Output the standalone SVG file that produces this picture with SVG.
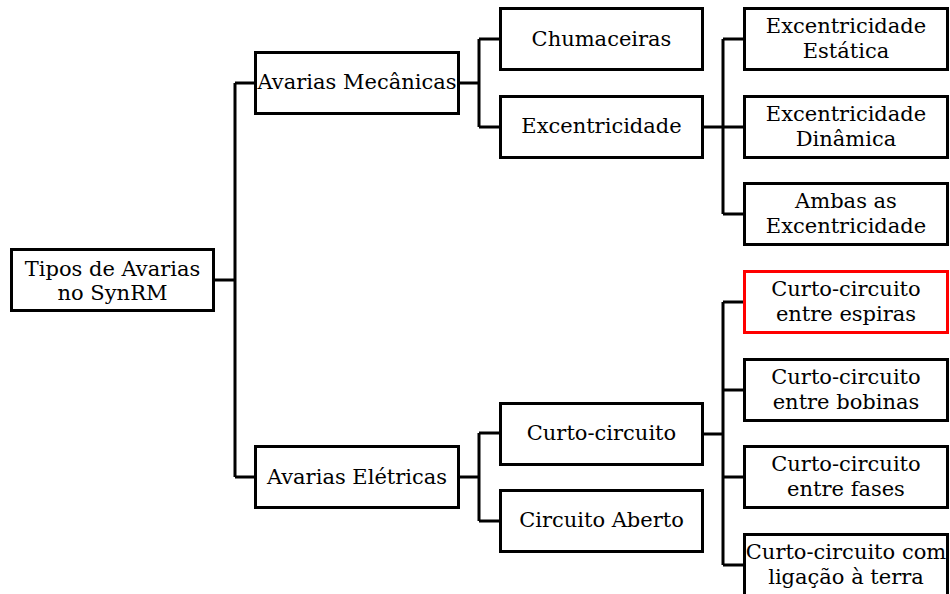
<svg xmlns="http://www.w3.org/2000/svg" width="950" height="594" viewBox="0 0 950 594">
  <style>
    .box { fill: #ffffff; stroke: #000000; stroke-width: 3; }
    .hl { stroke: #ff0000; }
    .lbl { font-family: "DejaVu Serif", "Liberation Serif", serif; font-size: 21px; fill: #000000; text-anchor: middle; }
    .wire { fill: none; stroke: #000000; stroke-width: 3; stroke-linejoin: miter; }
  </style>
  <rect width="950" height="594" fill="#ffffff"/>

  <!-- connectors -->
  <g id="connectors" class="wire">
    <!-- root to level 1 -->
    <path d="M213 280 H235 M235 83 V477 M235 83 H255 M235 477 H255"/>
    <!-- Avarias Mecânicas to its children -->
    <path d="M459 83 H479 M479 39 V127 M479 39 H499 M479 127 H499"/>
    <!-- Avarias Elétricas to its children -->
    <path d="M459 477 H479 M479 433 V521 M479 433 H499 M479 521 H499"/>
    <!-- Excentricidade to its children -->
    <path d="M703 127 H723 M723 39 V214 M723 39 H744 M723 127 H744 M723 214 H744"/>
    <!-- Curto-circuito to its children -->
    <path d="M703 434 H723 M723 302 V565 M723 302 H744 M723 390 H744 M723 477 H744 M723 565 H744"/>
  </g>

  <!-- root -->
  <g id="root">
    <rect class="box" x="11.5" y="249.5" width="202" height="61"/>
    <text class="lbl" x="112.5" y="276">Tipos de Avarias</text>
    <text class="lbl" x="112.5" y="300">no SynRM</text>
  </g>

  <!-- level 1 -->
  <g id="avarias-mecanicas">
    <rect class="box" x="255.5" y="52.5" width="203" height="61"/>
    <text class="lbl" x="357" y="89">Avarias Mecânicas</text>
  </g>
  <g id="avarias-eletricas">
    <rect class="box" x="255.5" y="446.5" width="203" height="61"/>
    <text class="lbl" x="357" y="484">Avarias Elétricas</text>
  </g>

  <!-- level 2 -->
  <g id="chumaceiras">
    <rect class="box" x="500.5" y="8.5" width="202" height="61"/>
    <text class="lbl" x="601.5" y="46">Chumaceiras</text>
  </g>
  <g id="excentricidade">
    <rect class="box" x="500.5" y="96.5" width="202" height="61"/>
    <text class="lbl" x="601.5" y="133">Excentricidade</text>
  </g>
  <g id="curto-circuito">
    <rect class="box" x="500.5" y="403.5" width="202" height="61"/>
    <text class="lbl" x="601.5" y="440">Curto-circuito</text>
  </g>
  <g id="circuito-aberto">
    <rect class="box" x="500.5" y="490.5" width="202" height="61"/>
    <text class="lbl" x="601.5" y="527">Circuito Aberto</text>
  </g>

  <!-- level 3: eccentricity faults -->
  <g id="exc-estatica">
    <rect class="box" x="744.5" y="8.5" width="203" height="61"/>
    <text class="lbl" x="846" y="33">Excentricidade</text>
    <text class="lbl" x="846" y="58">Estática</text>
  </g>
  <g id="exc-dinamica">
    <rect class="box" x="744.5" y="96.5" width="203" height="61"/>
    <text class="lbl" x="846" y="121">Excentricidade</text>
    <text class="lbl" x="846" y="146">Dinâmica</text>
  </g>
  <g id="exc-ambas">
    <rect class="box" x="744.5" y="183.5" width="203" height="61"/>
    <text class="lbl" x="846" y="208">Ambas as</text>
    <text class="lbl" x="846" y="233">Excentricidade</text>
  </g>

  <!-- level 3: short-circuit faults -->
  <g id="cc-espiras">
    <rect class="box hl" x="744.5" y="271.5" width="203" height="61"/>
    <text class="lbl" x="846" y="296">Curto-circuito</text>
    <text class="lbl" x="846" y="321">entre espiras</text>
  </g>
  <g id="cc-bobinas">
    <rect class="box" x="744.5" y="359.5" width="203" height="61"/>
    <text class="lbl" x="846" y="384">Curto-circuito</text>
    <text class="lbl" x="846" y="409">entre bobinas</text>
  </g>
  <g id="cc-fases">
    <rect class="box" x="744.5" y="446.5" width="203" height="61"/>
    <text class="lbl" x="846" y="471">Curto-circuito</text>
    <text class="lbl" x="846" y="496">entre fases</text>
  </g>
  <g id="cc-terra">
    <rect class="box" x="744.5" y="534.5" width="203" height="64"/>
    <text class="lbl" x="846" y="559">Curto-circuito com</text>
    <text class="lbl" x="846" y="584">ligação à terra</text>
  </g>
</svg>
